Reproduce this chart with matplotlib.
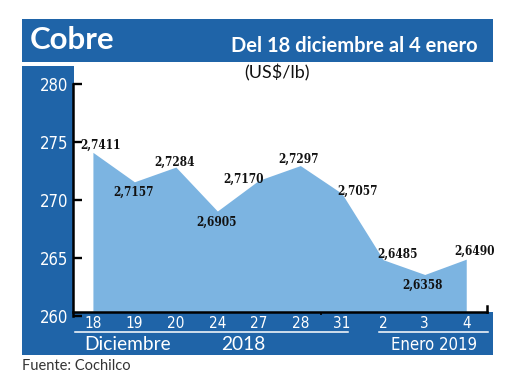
import matplotlib
matplotlib.use("Agg")
import matplotlib.pyplot as plt
from matplotlib.patches import Rectangle
from matplotlib.lines import Line2D
import numpy as np

# datos del grafico (US$/lb x 100)
dias = ["18", "19", "20", "24", "27", "28", "31", "2", "3", "4"]
precio = [274.11, 271.57, 272.84, 269.05, 271.70, 272.97, 270.57, 264.85, 263.58, 264.90]
etiquetas = ["2,7411", "2,7157", "2,7284", "2,6905", "2,7170",
             "2,7297", "2,7057", "2,6485", "2,6358", "2,6490"]
yticks = [260, 265, 270, 275, 280]

# desplazamiento de cada etiqueta respecto al punto (pixeles)
offsets = [(8, 7), (-1, -10), (-1, 5), (-1, -11), (-15, 1),
           (-2, 6), (16, 2), (14, 5), (-2, -11), (8, 8)]

AZUL = "#1f64a8"
CELESTE = "#7cb4e1"
BASE = 260.35

fig = plt.figure(figsize=(5.2, 3.9), dpi=100)
fig.patch.set_facecolor("white")

# bandas azules
fig.patches.append(Rectangle((0.0423, 0.841), 0.9058, 0.1103, transform=fig.transFigure,
                             facecolor=AZUL, edgecolor="none", zorder=-2))
fig.patches.append(Rectangle((0.0423, 0.0897), 0.1, 0.741, transform=fig.transFigure,
                             facecolor=AZUL, edgecolor="none", zorder=-2))
fig.patches.append(Rectangle((0.0423, 0.0897), 0.9058, 0.1103, transform=fig.transFigure,
                             facecolor=AZUL, edgecolor="none", zorder=-2))

ax = fig.add_axes([0.1404, 0.1897, 0.7961, 0.5949])
ax.set_facecolor("none")

x = np.arange(len(dias))
ax.fill_between(x, precio, BASE, color=CELESTE, lw=0, zorder=1)

for xi, yi, txt, (dx, dy) in zip(x, precio, etiquetas, offsets):
    ax.annotate(txt, (xi, yi), xytext=(dx, dy), textcoords="offset pixels",
                ha="center", va="center", fontsize=8.5, fontweight="bold",
                family="DejaVu Serif", fontstretch="condensed", color="#111111")

ax.set_xlim(-0.48, 9.5)
ax.set_ylim(260, 280)

for s in ("top", "right"):
    ax.spines[s].set_visible(False)
ax.spines["left"].set_linewidth(1.8)
ax.spines["bottom"].set_linewidth(1.8)
ax.spines["bottom"].set_position(("data", BASE))
x1 = ax.get_xlim()[1]
ax.plot([x1, x1], [BASE, BASE + 0.5], color="black", lw=1.8, clip_on=False, zorder=3)

ax.set_yticks(yticks)
ax.set_yticklabels([str(v) for v in yticks], family="DejaVu Sans", fontstretch="condensed",
                   fontsize=12, color="white")
ax.tick_params(axis="y", direction="in", length=6.5, width=1.7, pad=3.6)

ax.set_xticks(x)
ax.set_xticklabels(dias, family="DejaVu Sans", fontstretch="condensed", fontsize=11, color="white")
ax.tick_params(axis="x", length=0, pad=3)
ax.set_xticks([5.5], minor=True)
ax.tick_params(axis="x", which="minor", direction="out", length=2, width=1.2)

# textos
fig.text(0.0577, 0.874, "Cobre", family=["Lato", "DejaVu Sans"], fontweight="bold",
         fontsize=22.5, color="white", va="baseline", ha="left")
fig.text(0.919, 0.8667, "Del 18 diciembre al 4 enero", family=["Lato", "DejaVu Sans"],
         fontweight="bold", fontsize=14.5, color="white", va="baseline", ha="right")
fig.text(0.533, 0.813, "(US$/lb)", family=["Lato", "DejaVu Sans"], fontsize=13,
         color="#111111", va="center", ha="center")

fig.lines.append(Line2D([0.1442, 0.6692], [0.1487, 0.1487], transform=fig.transFigure,
                        color="white", lw=1.1))
fig.lines.append(Line2D([0.7288, 0.9385], [0.1487, 0.1487], transform=fig.transFigure,
                        color="white", lw=1.1))
fig.text(0.2462, 0.1154, "Diciembre", family=["Lato", "DejaVu Sans"], fontsize=13.8,
         color="white", va="center", ha="center")
fig.text(0.4673, 0.1154, "2018", family=["Lato", "DejaVu Sans"], fontsize=13.8,
         color="white", va="center", ha="center")
fig.text(0.8346, 0.1154, "Enero 2019", family="DejaVu Sans", fontstretch="condensed",
         fontsize=12, color="white", va="center", ha="center")
fig.text(0.0423, 0.0615, "Fuente: Cochilco", family=["Lato", "DejaVu Sans"], fontsize=10.5,
         color="#333333", va="center", ha="left")

fig.savefig("out.png", dpi=100)
